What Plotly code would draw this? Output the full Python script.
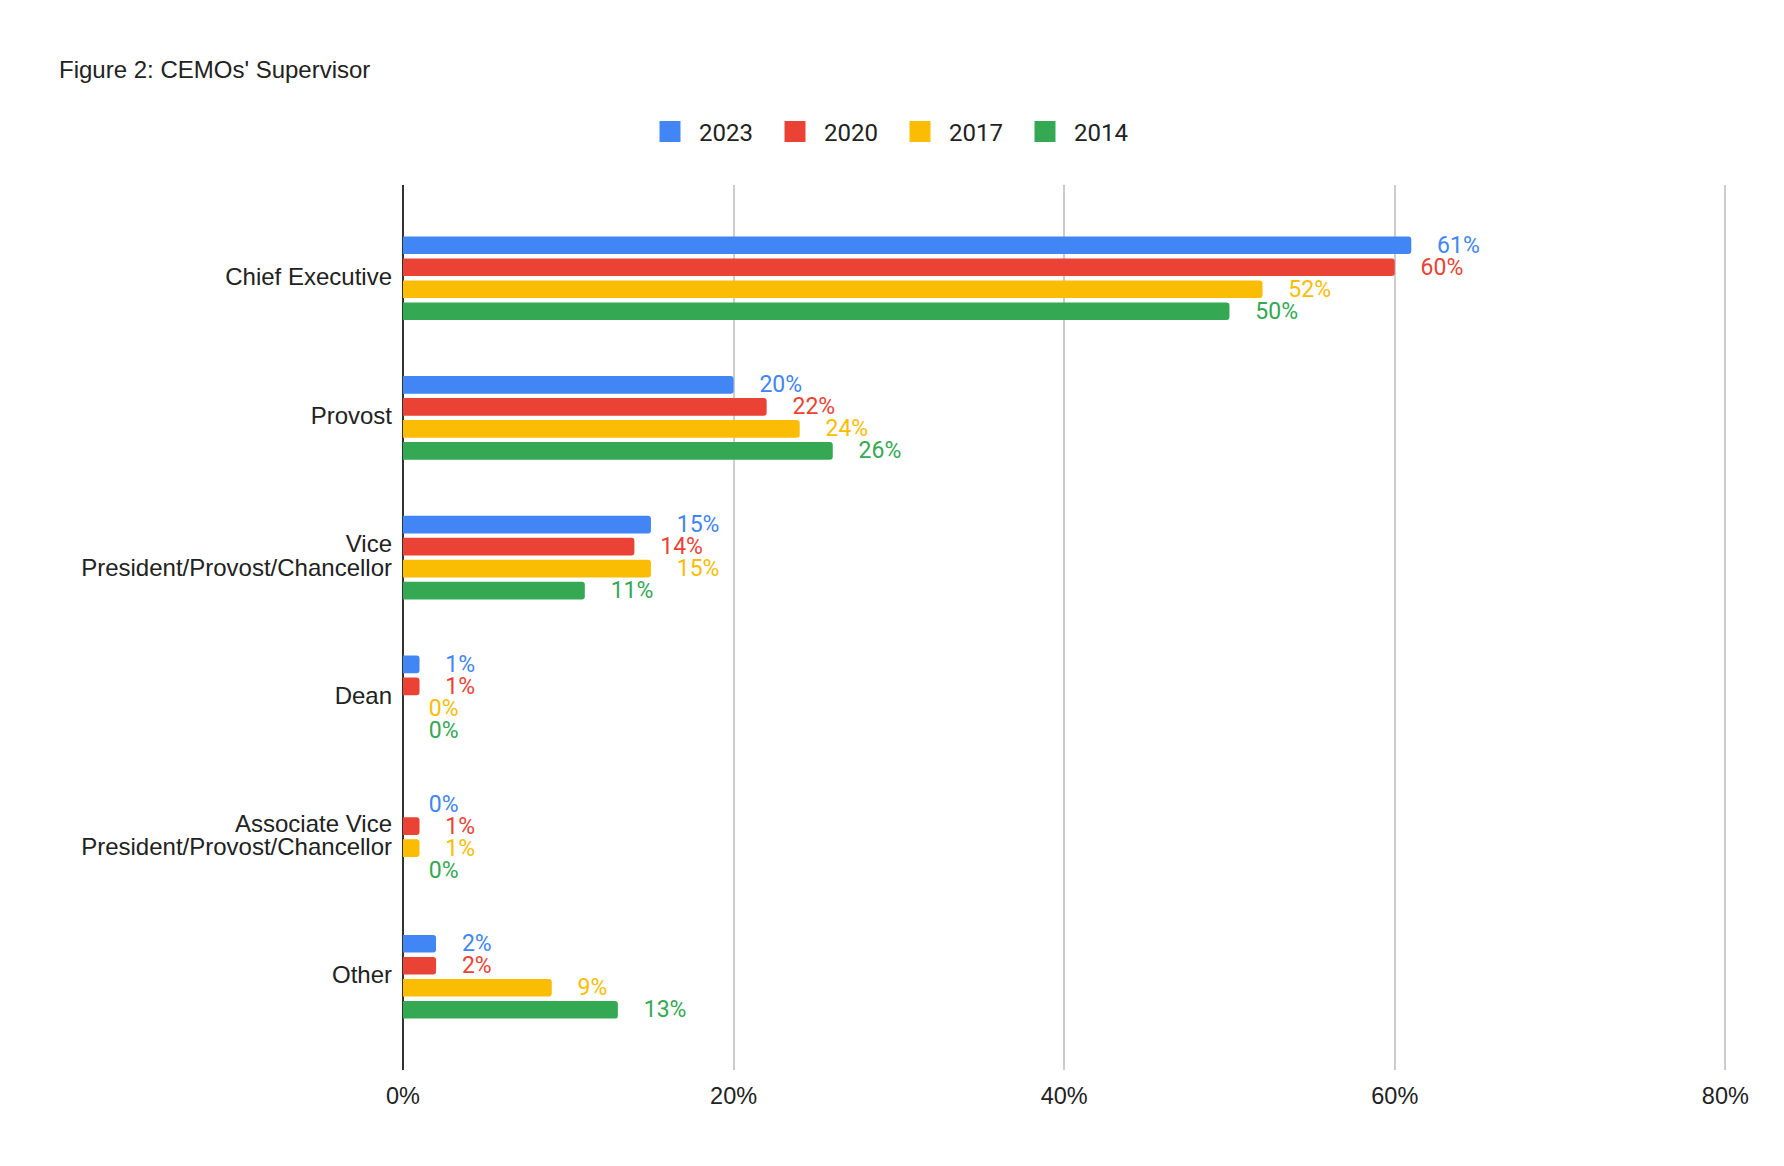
import plotly.graph_objects as go

categories = [
    "Chief Executive",
    "Provost",
    "Vice<br>President/Provost/Chancellor",
    "Dean",
    "Associate Vice<br>President/Provost/Chancellor",
    "Other",
]
series_names = ["2023", "2020", "2017", "2014"]
values_2023 = [0.61, 0.20, 0.15, 0.01, 0.00, 0.02]
values_2020 = [0.60, 0.22, 0.14, 0.01, 0.01, 0.02]
values_2017 = [0.52, 0.24, 0.15, 0.00, 0.01, 0.09]
values_2014 = [0.50, 0.26, 0.11, 0.00, 0.00, 0.13]
x_ticks = [0, 0.2, 0.4, 0.6, 0.8]
x_tick_labels = ["0%", "20%", "40%", "60%", "80%"]
colors = ["#4285F4", "#EA4335", "#FBBC04", "#34A853"]

all_values = [values_2023, values_2020, values_2017, values_2014]

W, H = 1784, 1166

# category tick labels: large glyphs but tight line spacing (as in the original)
cat_ticktext = [
    "<br>".join('<span style="font-size:24px">%s</span>' % line for line in c.split("<br>"))
    for c in categories
]

fig = go.Figure()
for name, vals, col in zip(series_names, all_values, colors):
    fig.add_trace(go.Bar(
        name=name,
        legendgroup=name,
        showlegend=False,
        y=categories,
        x=vals,
        orientation="h",
        marker=dict(color=col, line=dict(width=0)),
        texttemplate="\u00a0\u00a0\u00a0\u00a0%{x:.0%}",
        textposition="outside",
        outsidetextfont=dict(family="Roboto", size=23, color=col),
        constraintext="none",
        cliponaxis=False,
        hoverinfo="skip",
    ))

# legend entries (large squares like the original)
for name, col in zip(series_names, colors):
    fig.add_trace(go.Scatter(
        name=name,
        legendgroup=name,
        x=[None],
        y=[None],
        mode="markers",
        marker=dict(symbol="square", size=16, color=col,
                    line=dict(color=col, width=5)),
        hoverinfo="skip",
    ))

fig.update_layout(
    width=W,
    height=H,
    paper_bgcolor="white",
    plot_bgcolor="white",
    barmode="group",
    bargap=0.37,
    bargroupgap=0.2,
    barcornerradius=3,
    margin=dict(l=395, r=65, t=177, b=104),
    title=dict(
        text="Figure 2: CEMOs' Supervisor",
        font=dict(family="Liberation Sans, Arial", size=24, color="#222222"),
        x=51 / W, xanchor="left", xref="container",
        y=1 - 61.4 / H, yanchor="middle", yref="container",
    ),
    legend=dict(
        orientation="h",
        xref="container", yref="container",
        x=0.5 - 9 / W, xanchor="center",
        y=1 - 124 / H, yanchor="middle",
        font=dict(family="Roboto", size=24, color="#222222"),
        traceorder="normal",
        itemwidth=48,
        entrywidth=62,
    ),
    xaxis=dict(
        range=[0, 0.801],
        tickvals=x_ticks,
        ticktext=x_tick_labels,
        showgrid=True,
        gridcolor="#cccccc",
        gridwidth=1.5,
        zeroline=True,
        zerolinecolor="#333333",
        zerolinewidth=2,
        showline=False,
        ticks="",
        ticklabelstandoff=9,
        tickfont=dict(family="Liberation Sans, Arial", size=23.5, color="#222222"),
        fixedrange=True,
    ),
    yaxis=dict(
        categoryorder="array",
        categoryarray=categories,
        tickvals=categories,
        ticktext=cat_ticktext,
        range=[5.667, -0.667],
        showgrid=False,
        zeroline=False,
        showline=False,
        ticks="",
        ticklabelstandoff=10,
        tickfont=dict(family="Liberation Sans, Arial", size=18, color="#222222"),
        fixedrange=True,
    ),
)

fig.write_html("out.html")
